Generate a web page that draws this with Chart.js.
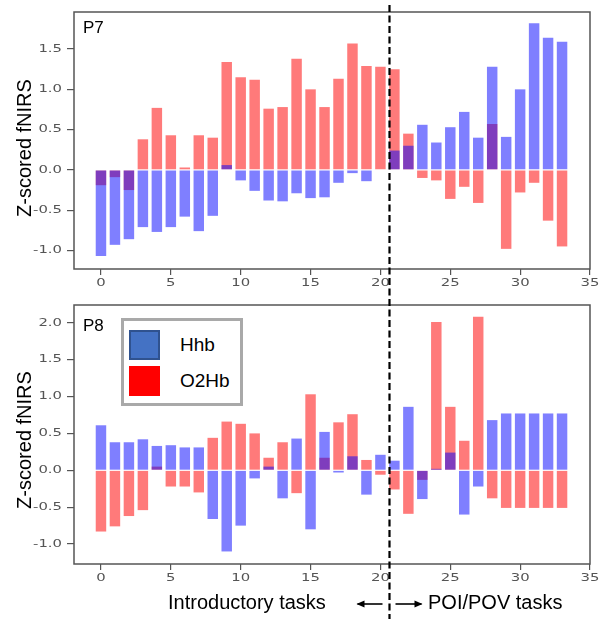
<!DOCTYPE html>
<html>
<head>
<meta charset="utf-8">
<script src="https://cdn.jsdelivr.net/npm/chart.js@4.4.1/dist/chart.umd.min.js"></script>
<style>
  html, body { margin: 0; padding: 0; background: #fff; }
  #wrap { position: relative; width: 599px; height: 619px; overflow: hidden; font-family: "Liberation Sans", Arial, sans-serif; color: #000; }
  .panel { position: absolute; left: 0; width: 599px; height: 300px; }
  .ytitle { position: absolute; width: 180px; height: 24px; line-height: 24px; text-align: center; font-size: 20px; transform: rotate(-90deg); white-space: nowrap; }
  .plabel { position: absolute; font-size: 17px; line-height: 20px; }
  .legend { position: absolute; left: 121px; top: 318px; width: 116px; height: 82px; border: 3px solid #a9a9a9; background: #fff; }
  .sw { position: absolute; left: 5px; width: 31px; height: 30px; box-sizing: border-box; }
  .lt { position: absolute; left: 56px; font-size: 19px; line-height: 22px; }
  .bt { position: absolute; font-size: 20px; line-height: 24px; white-space: nowrap; }
  svg { position: absolute; left: 0; top: 0; }
</style>
</head>
<body>
<div id="wrap">
  <div class="panel" style="top:0px"><canvas id="c7"></canvas></div>
  <div class="panel" style="top:293px"><canvas id="c8"></canvas></div>

  <div class="ytitle" style="left:-66px; top:136px;">Z-scored fNIRS</div>
  <div class="ytitle" style="left:-66px; top:428px;">Z-scored fNIRS</div>

  <div class="plabel" id="p7" style="left:83px; top:18px;"></div>
  <div class="plabel" id="p8" style="left:83px; top:316px;"></div>

  <div class="legend">
    <div class="sw" style="top:9px; background:#4472c4; border:2px solid #2f528f;"></div>
    <div class="sw" style="top:45px; background:#ff0000;"></div>
    <div class="lt" id="lg0" style="top:13px;"></div>
    <div class="lt" id="lg1" style="top:49px;"></div>
  </div>

  <div class="bt" id="btLeft" style="left:168px; top:590px;">Introductory tasks</div>
  <div class="bt" id="btRight" style="left:428px; top:590px;">POI/POV tasks</div>

  <svg id="overlay" width="599" height="619"></svg>
</div>

<script>
// ---------------- data ----------------
const panelNames = ['P7', 'P8'];
const seriesNames = ['Hhb', 'O2Hb'];
const tasks = [0, 1, 2, 3, 4, 5, 6, 7, 8, 9, 10, 11, 12, 13, 14, 15, 16,
               17, 18, 19, 20, 21, 22, 23, 24, 25, 26, 27, 28, 29, 30, 31, 32, 33];

const p7Hhb  = [-1.07, -0.93, -0.86, -0.71, -0.77, -0.71, -0.58, -0.76, -0.57, 0.06,
                -0.13, -0.26, -0.38, -0.39, -0.29, -0.35, -0.34, -0.16, -0.04, -0.14,
                0.00, 0.24, 0.30, 0.56, 0.34, 0.53, 0.72, 0.40, 1.28, 0.41,
                1.00, 1.82, 1.64, 1.59];
const p7O2Hb = [-0.19, -0.09, -0.25, 0.38, 0.77, 0.43, 0.03, 0.43, 0.40, 1.34,
                1.15, 1.12, 0.76, 0.78, 1.38, 1.00, 0.78, 1.13, 1.57, 1.29,
                1.28, 1.25, 0.45, -0.10, -0.13, -0.36, -0.21, -0.41, 0.57, -0.98,
                -0.28, -0.16, -0.63, -0.95];

const p8Hhb  = [0.61, 0.38, 0.38, 0.42, 0.33, 0.34, 0.31, 0.31, -0.66, -1.10,
                -0.75, -0.11, 0.05, -0.38, 0.43, -0.80, 0.52, -0.03, 0.19, -0.33,
                0.21, 0.13, 0.86, -0.39, 0.02, 0.24, -0.60, -0.22, 0.68, 0.77,
                0.77, 0.77, 0.77, 0.77];
const p8O2Hb = [-0.83, -0.76, -0.62, -0.54, 0.05, -0.22, -0.22, -0.30, 0.44, 0.66,
                0.63, 0.50, 0.17, 0.38, -0.31, 1.03, 0.17, 0.65, 0.76, 0.14,
                -0.06, -0.26, -0.59, -0.13, 2.01, 0.86, 0.40, 2.08, -0.38, -0.51,
                -0.51, -0.51, -0.51, -0.51];

const xTicks = [0, 5, 10, 15, 20, 25, 30, 35];
const p7YTicks = [-1.0, -0.5, 0.0, 0.5, 1.0, 1.5];
const p8YTicks = [-1.0, -0.5, 0.0, 0.5, 1.0, 1.5, 2.0];
const dividerTask = 20.65;   // boundary between introductory and POI/POV tasks

// ---------------- helpers ----------------
document.getElementById('p7').textContent = panelNames[0];
document.getElementById('p8').textContent = panelNames[1];
document.getElementById('lg0').textContent = seriesNames[0];
document.getElementById('lg1').textContent = seriesNames[1];

const framePlugin = {
  id: 'frame',
  afterDraw(chart) {
    const a = chart.chartArea, ctx = chart.ctx;
    ctx.save();
    ctx.strokeStyle = '#555';
    ctx.lineWidth = 1.5;
    ctx.strokeRect(a.left, a.top, a.right - a.left, a.bottom - a.top);
    ctx.restore();
  }
};

// matplotlib figure was stretched horizontally: widen tick text the same way
const stretchTextPlugin = {
  id: 'stretchText',
  beforeInit(chart) {
    const ctx = chart.ctx;
    const orig = ctx.fillText.bind(ctx);
    ctx.fillText = function (t, x, y, mw) {
      ctx.save();
      ctx.translate(x, y);
      ctx.scale(1.35, 1);
      if (mw === undefined) orig(t, 0, 0); else orig(t, 0, 0, mw);
      ctx.restore();
    };
  }
};

function pts(vals) { return tasks.map((t, i) => ({ x: t, y: vals[i] })); }

function makePanel(id, hhb, o2hb, yMin, yMax, yTicks, padTop, xHeight) {
  const tickFont = { family: 'DejaVu Sans', size: 11 };
  return new Chart(document.getElementById(id), {
    type: 'bar',
    data: {
      datasets: [
        { label: seriesNames[0], data: pts(hhb), backgroundColor: 'rgba(0,0,255,0.5)',
          borderWidth: 0, grouped: false, barPercentage: 0.75, categoryPercentage: 1 },
        { label: seriesNames[1], data: pts(o2hb), backgroundColor: 'rgba(255,0,0,0.52)',
          borderWidth: 0, grouped: false, barPercentage: 0.75, categoryPercentage: 1 }
      ]
    },
    options: {
      responsive: true, maintainAspectRatio: false, animation: false,
      layout: { padding: { top: padTop, right: 9, left: 0, bottom: 0 } },
      plugins: { legend: { display: false }, tooltip: { enabled: false } },
      scales: {
        x: {
          type: 'linear', min: -1.93, max: 35, offset: false,
          afterBuildTicks: s => { s.ticks = xTicks.map(v => ({ value: v })); },
          afterFit: s => { s.height = xHeight; },
          grid: { display: true, offset: false, drawOnChartArea: false, drawTicks: true, tickLength: 6, color: '#555', lineWidth: 1.2 },
          border: { display: false },
          ticks: { font: tickFont, color: '#555', padding: 2, maxRotation: 0, autoSkip: false,
                   callback: v => String(v) }
        },
        y: {
          min: yMin, max: yMax,
          afterBuildTicks: s => { s.ticks = yTicks.map(v => ({ value: v })); },
          afterFit: s => { s.width = 74; },
          grid: { display: true, drawOnChartArea: false, drawTicks: true, tickLength: 7, color: '#555', lineWidth: 1.2 },
          border: { display: false },
          ticks: { font: tickFont, color: '#555', padding: 5, callback: v => Number(v).toFixed(1) }
        }
      }
    },
    plugins: [stretchTextPlugin, framePlugin]
  });
}

const chart7 = makePanel('c7', p7Hhb, p7O2Hb, -1.23, 1.96, p7YTicks, 12, 31);
const chart8 = makePanel('c8', p8Hhb, p8O2Hb, -1.27, 2.24, p8YTicks, 12, 29);

// ---------------- divider + arrows ----------------
function drawOverlay() {
  const svg = document.getElementById('overlay');
  const px = chart7.scales.x.getPixelForValue(dividerTask);
  const ns = 'http://www.w3.org/2000/svg';
  svg.innerHTML = '';
  const line = document.createElementNS(ns, 'line');
  line.setAttribute('x1', px); line.setAttribute('x2', px);
  line.setAttribute('y1', 5); line.setAttribute('y2', 619);
  line.setAttribute('stroke', '#000'); line.setAttribute('stroke-width', 2.2);
  line.setAttribute('stroke-dasharray', '7,3.5');
  svg.appendChild(line);

  const ay = 604;
  function arrow(x1, x2) {
    const l = document.createElementNS(ns, 'line');
    l.setAttribute('x1', x1); l.setAttribute('x2', x2);
    l.setAttribute('y1', ay); l.setAttribute('y2', ay);
    l.setAttribute('stroke', '#000'); l.setAttribute('stroke-width', 1.6);
    svg.appendChild(l);
    const dir = Math.sign(x2 - x1);
    const h = document.createElementNS(ns, 'polygon');
    h.setAttribute('points', `${x2 + dir},${ay} ${x2 - dir * 7},${ay - 3.5} ${x2 - dir * 7},${ay + 3.5}`);
    h.setAttribute('fill', '#000');
    svg.appendChild(h);
  }
  arrow(px - 7, px - 32);
  arrow(px + 6, px + 32);
}
drawOverlay();
</script>
</body>
</html>
